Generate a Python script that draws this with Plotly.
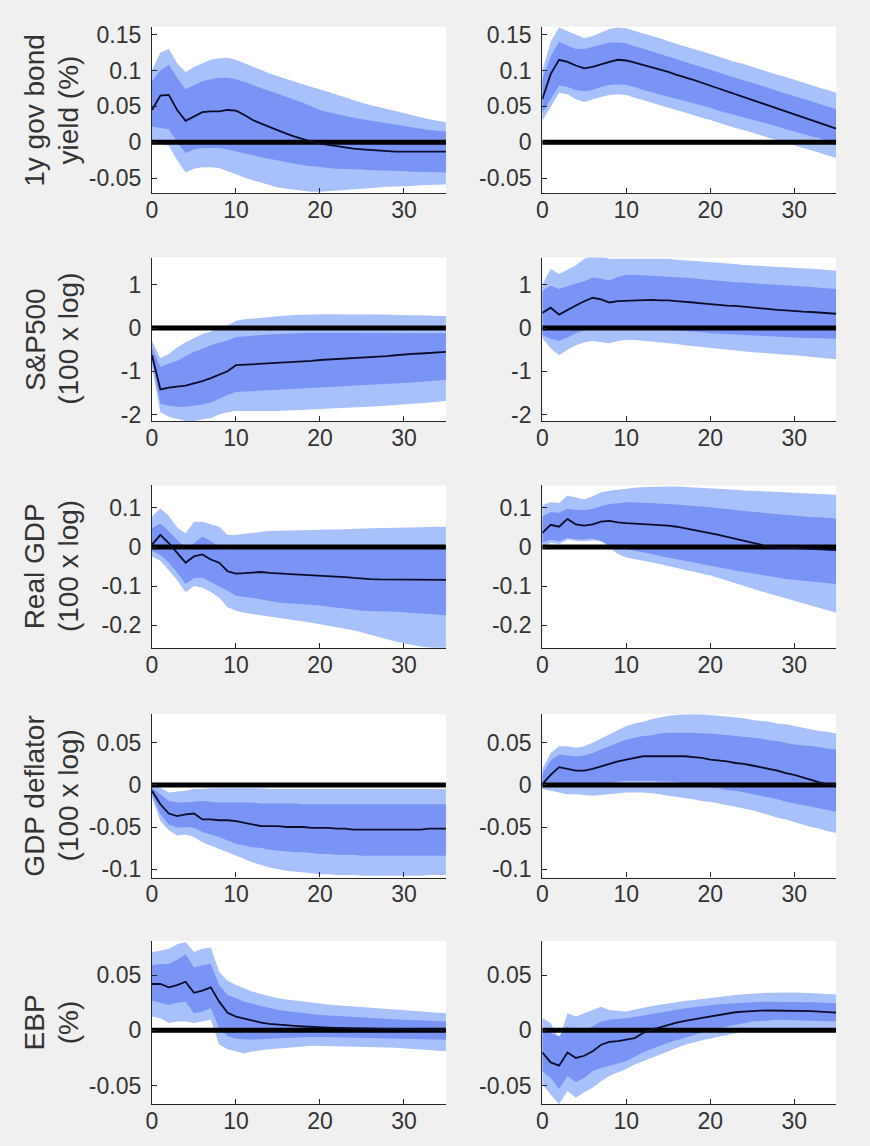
import plotly.graph_objects as go
from plotly.subplots import make_subplots

horizon = list(range(36))

# ---------------- Row 1: 1y gov bond yield ----------------
gb1_med = [0.045, 0.065, 0.066, 0.045, 0.030, 0.036, 0.042, 0.043, 0.043, 0.045, 0.044, 0.038, 0.031, 0.026, 0.021, 0.016, 0.012, 0.008, 0.004, 0.001, -0.002, -0.004, -0.006, -0.008, -0.009, -0.010, -0.011, -0.012, -0.012, -0.013, -0.013, -0.013, -0.013, -0.013, -0.013, -0.013]
gb1_d_up = [0.085, 0.100, 0.108, 0.090, 0.074, 0.080, 0.085, 0.088, 0.090, 0.090, 0.088, 0.084, 0.080, 0.076, 0.072, 0.068, 0.064, 0.060, 0.055, 0.050, 0.045, 0.042, 0.039, 0.037, 0.034, 0.032, 0.030, 0.028, 0.026, 0.024, 0.022, 0.020, 0.019, 0.017, 0.016, 0.015]
gb1_l_up = [0.100, 0.125, 0.130, 0.110, 0.098, 0.105, 0.110, 0.115, 0.117, 0.118, 0.115, 0.110, 0.105, 0.100, 0.096, 0.092, 0.088, 0.084, 0.080, 0.077, 0.074, 0.070, 0.066, 0.062, 0.058, 0.055, 0.052, 0.049, 0.046, 0.043, 0.040, 0.037, 0.034, 0.032, 0.030, 0.028]
gb1_d_lo = [0.022, 0.020, 0.018, 0.000, -0.015, -0.010, -0.008, -0.008, -0.008, -0.010, -0.012, -0.015, -0.018, -0.021, -0.024, -0.026, -0.028, -0.030, -0.032, -0.034, -0.035, -0.036, -0.037, -0.037, -0.038, -0.038, -0.039, -0.039, -0.040, -0.040, -0.040, -0.041, -0.041, -0.041, -0.042, -0.042]
gb1_l_lo = [0.000, -0.002, -0.005, -0.025, -0.042, -0.037, -0.035, -0.035, -0.036, -0.041, -0.045, -0.049, -0.053, -0.057, -0.060, -0.063, -0.065, -0.067, -0.068, -0.069, -0.069, -0.069, -0.068, -0.067, -0.066, -0.065, -0.064, -0.063, -0.062, -0.062, -0.061, -0.061, -0.060, -0.060, -0.059, -0.059]

gb2_med = [0.060, 0.095, 0.115, 0.112, 0.107, 0.103, 0.105, 0.109, 0.112, 0.115, 0.114, 0.111, 0.108, 0.104, 0.101, 0.098, 0.094, 0.091, 0.087, 0.083, 0.079, 0.075, 0.071, 0.067, 0.063, 0.059, 0.055, 0.051, 0.047, 0.043, 0.039, 0.035, 0.031, 0.027, 0.023, 0.019]
gb2_d_up = [0.088, 0.120, 0.140, 0.135, 0.130, 0.130, 0.133, 0.136, 0.139, 0.139, 0.138, 0.134, 0.131, 0.127, 0.123, 0.120, 0.116, 0.112, 0.109, 0.105, 0.101, 0.097, 0.094, 0.090, 0.086, 0.083, 0.079, 0.075, 0.072, 0.068, 0.064, 0.061, 0.057, 0.053, 0.050, 0.046]
gb2_l_up = [0.100, 0.140, 0.160, 0.155, 0.149, 0.145, 0.148, 0.153, 0.158, 0.160, 0.159, 0.155, 0.152, 0.148, 0.145, 0.141, 0.137, 0.134, 0.130, 0.127, 0.123, 0.119, 0.116, 0.112, 0.109, 0.105, 0.101, 0.098, 0.094, 0.091, 0.087, 0.083, 0.080, 0.076, 0.073, 0.069]
gb2_d_lo = [0.041, 0.060, 0.079, 0.077, 0.073, 0.071, 0.073, 0.077, 0.080, 0.081, 0.080, 0.077, 0.073, 0.070, 0.067, 0.064, 0.060, 0.057, 0.054, 0.051, 0.048, 0.044, 0.041, 0.038, 0.035, 0.031, 0.028, 0.025, 0.022, 0.018, 0.015, 0.012, 0.009, 0.005, 0.002, -0.001]
gb2_l_lo = [0.030, 0.050, 0.069, 0.067, 0.060, 0.056, 0.059, 0.063, 0.066, 0.067, 0.066, 0.062, 0.059, 0.055, 0.052, 0.048, 0.045, 0.041, 0.038, 0.034, 0.031, 0.027, 0.024, 0.020, 0.017, 0.013, 0.010, 0.006, 0.003, -0.001, -0.004, -0.008, -0.011, -0.015, -0.018, -0.022]

# ---------------- Row 2: S&P500 ----------------
sp1_med = [-0.63, -1.42, -1.38, -1.35, -1.33, -1.28, -1.23, -1.16, -1.08, -1.00, -0.86, -0.85, -0.84, -0.83, -0.82, -0.81, -0.80, -0.78, -0.77, -0.76, -0.74, -0.73, -0.72, -0.71, -0.70, -0.69, -0.68, -0.67, -0.65, -0.63, -0.61, -0.60, -0.59, -0.58, -0.56, -0.55]
sp1_d_up = [-0.45, -0.90, -0.82, -0.76, -0.65, -0.55, -0.48, -0.40, -0.34, -0.29, -0.21, -0.19, -0.17, -0.16, -0.15, -0.14, -0.13, -0.12, -0.12, -0.11, -0.11, -0.11, -0.11, -0.11, -0.11, -0.11, -0.11, -0.11, -0.11, -0.11, -0.11, -0.11, -0.12, -0.12, -0.12, -0.12]
sp1_l_up = [-0.30, -0.70, -0.60, -0.45, -0.33, -0.24, -0.14, -0.08, -0.02, 0.06, 0.17, 0.20, 0.22, 0.24, 0.26, 0.28, 0.29, 0.30, 0.31, 0.31, 0.32, 0.32, 0.32, 0.32, 0.32, 0.32, 0.31, 0.31, 0.31, 0.30, 0.30, 0.30, 0.29, 0.29, 0.28, 0.28]
sp1_d_lo = [-0.75, -1.76, -1.80, -1.82, -1.82, -1.80, -1.77, -1.72, -1.64, -1.55, -1.48, -1.47, -1.46, -1.45, -1.43, -1.42, -1.41, -1.40, -1.39, -1.38, -1.37, -1.36, -1.35, -1.34, -1.33, -1.32, -1.31, -1.30, -1.29, -1.28, -1.27, -1.26, -1.24, -1.23, -1.21, -1.20]
sp1_l_lo = [-0.90, -1.95, -2.05, -2.10, -2.15, -2.15, -2.12, -2.08, -2.00, -1.95, -1.92, -1.92, -1.92, -1.92, -1.92, -1.92, -1.91, -1.90, -1.89, -1.89, -1.88, -1.87, -1.86, -1.85, -1.84, -1.83, -1.82, -1.81, -1.80, -1.78, -1.77, -1.75, -1.74, -1.72, -1.71, -1.69]

sp2_med = [0.35, 0.47, 0.31, 0.42, 0.52, 0.62, 0.70, 0.66, 0.59, 0.62, 0.63, 0.64, 0.65, 0.65, 0.64, 0.64, 0.62, 0.61, 0.59, 0.57, 0.55, 0.54, 0.52, 0.51, 0.49, 0.48, 0.46, 0.44, 0.42, 0.41, 0.39, 0.38, 0.37, 0.36, 0.34, 0.33]
sp2_d_up = [0.86, 0.98, 0.90, 0.97, 1.03, 1.08, 1.17, 1.14, 1.10, 1.18, 1.23, 1.23, 1.22, 1.21, 1.20, 1.19, 1.18, 1.16, 1.15, 1.13, 1.11, 1.09, 1.08, 1.06, 1.05, 1.03, 1.02, 1.01, 1.00, 0.99, 0.98, 0.96, 0.95, 0.93, 0.92, 0.90]
sp2_l_up = [1.00, 1.37, 1.25, 1.35, 1.45, 1.60, 1.68, 1.65, 1.60, 1.60, 1.60, 1.61, 1.61, 1.61, 1.60, 1.60, 1.58, 1.57, 1.55, 1.54, 1.52, 1.51, 1.49, 1.48, 1.46, 1.45, 1.44, 1.43, 1.42, 1.41, 1.40, 1.39, 1.37, 1.36, 1.34, 1.33]
sp2_d_lo = [-0.16, -0.25, -0.30, -0.22, -0.12, -0.05, 0.00, 0.02, -0.01, 0.01, 0.02, 0.01, 0.00, -0.01, -0.03, -0.04, -0.06, -0.07, -0.09, -0.10, -0.12, -0.13, -0.14, -0.15, -0.17, -0.18, -0.19, -0.20, -0.21, -0.21, -0.22, -0.23, -0.23, -0.24, -0.24, -0.25]
sp2_l_lo = [-0.23, -0.47, -0.63, -0.50, -0.40, -0.33, -0.30, -0.32, -0.35, -0.30, -0.27, -0.28, -0.30, -0.32, -0.33, -0.35, -0.37, -0.40, -0.42, -0.45, -0.47, -0.49, -0.51, -0.53, -0.54, -0.56, -0.57, -0.59, -0.60, -0.62, -0.63, -0.65, -0.67, -0.68, -0.70, -0.72]

# ---------------- Row 3: Real GDP ----------------
gdp1_med = [0.006, 0.031, 0.010, -0.015, -0.040, -0.024, -0.019, -0.032, -0.040, -0.062, -0.068, -0.067, -0.066, -0.064, -0.066, -0.068, -0.069, -0.070, -0.071, -0.073, -0.074, -0.075, -0.076, -0.077, -0.079, -0.081, -0.082, -0.083, -0.083, -0.084, -0.084, -0.084, -0.084, -0.084, -0.084, -0.084]
gdp1_d_up = [0.048, 0.060, 0.040, 0.018, -0.003, 0.010, 0.027, 0.015, 0.002, -0.007, -0.005, -0.004, -0.003, -0.002, -0.001, 0.000, 0.000, 0.000, 0.000, 0.000, 0.000, 0.000, -0.001, -0.001, -0.001, -0.001, -0.001, -0.002, -0.002, -0.002, -0.002, -0.002, -0.002, -0.003, -0.003, -0.003]
gdp1_l_up = [0.078, 0.099, 0.080, 0.050, 0.035, 0.065, 0.065, 0.058, 0.052, 0.031, 0.031, 0.034, 0.037, 0.039, 0.041, 0.042, 0.042, 0.043, 0.043, 0.044, 0.044, 0.045, 0.045, 0.046, 0.047, 0.048, 0.048, 0.049, 0.049, 0.050, 0.050, 0.050, 0.051, 0.051, 0.052, 0.052]
gdp1_d_lo = [-0.011, -0.020, -0.040, -0.065, -0.095, -0.080, -0.078, -0.090, -0.100, -0.112, -0.125, -0.128, -0.130, -0.134, -0.138, -0.142, -0.144, -0.145, -0.147, -0.148, -0.150, -0.153, -0.155, -0.158, -0.160, -0.163, -0.164, -0.164, -0.165, -0.166, -0.167, -0.169, -0.170, -0.172, -0.173, -0.175]
gdp1_l_lo = [-0.024, -0.035, -0.060, -0.085, -0.116, -0.100, -0.104, -0.115, -0.130, -0.154, -0.163, -0.168, -0.172, -0.176, -0.179, -0.182, -0.185, -0.188, -0.191, -0.194, -0.197, -0.201, -0.205, -0.209, -0.213, -0.218, -0.224, -0.230, -0.236, -0.242, -0.247, -0.251, -0.255, -0.258, -0.260, -0.262]

gdp2_med = [0.036, 0.057, 0.052, 0.072, 0.058, 0.055, 0.058, 0.065, 0.067, 0.063, 0.061, 0.060, 0.059, 0.058, 0.057, 0.055, 0.052, 0.048, 0.044, 0.040, 0.036, 0.031, 0.026, 0.021, 0.017, 0.012, 0.006, 0.000, -0.002, -0.003, -0.003, -0.004, -0.005, -0.006, -0.007, -0.008]
gdp2_d_up = [0.078, 0.090, 0.088, 0.098, 0.095, 0.094, 0.098, 0.103, 0.110, 0.112, 0.115, 0.115, 0.114, 0.113, 0.112, 0.110, 0.109, 0.107, 0.106, 0.104, 0.102, 0.100, 0.097, 0.095, 0.092, 0.090, 0.088, 0.086, 0.084, 0.082, 0.080, 0.079, 0.077, 0.076, 0.074, 0.073]
gdp2_l_up = [0.107, 0.115, 0.113, 0.132, 0.127, 0.122, 0.130, 0.140, 0.144, 0.147, 0.150, 0.152, 0.153, 0.154, 0.155, 0.155, 0.155, 0.154, 0.153, 0.152, 0.150, 0.149, 0.148, 0.147, 0.145, 0.144, 0.143, 0.142, 0.140, 0.139, 0.138, 0.137, 0.136, 0.135, 0.135, 0.134]
gdp2_d_lo = [0.011, 0.019, 0.015, 0.023, 0.020, 0.020, 0.022, 0.015, 0.005, -0.001, -0.006, -0.010, -0.014, -0.018, -0.023, -0.027, -0.031, -0.035, -0.040, -0.044, -0.048, -0.052, -0.056, -0.060, -0.064, -0.068, -0.071, -0.075, -0.078, -0.082, -0.085, -0.087, -0.089, -0.091, -0.093, -0.095]
gdp2_l_lo = [0.000, 0.011, 0.008, 0.019, 0.016, 0.015, 0.017, 0.017, -0.002, -0.018, -0.027, -0.031, -0.035, -0.039, -0.044, -0.048, -0.053, -0.058, -0.063, -0.068, -0.073, -0.079, -0.086, -0.093, -0.099, -0.106, -0.113, -0.119, -0.126, -0.132, -0.139, -0.145, -0.151, -0.157, -0.162, -0.168]

# ---------------- Row 4: GDP deflator ----------------
def1_med = [-0.007, -0.023, -0.034, -0.037, -0.035, -0.034, -0.041, -0.041, -0.042, -0.042, -0.043, -0.045, -0.047, -0.049, -0.049, -0.049, -0.050, -0.050, -0.050, -0.051, -0.051, -0.051, -0.052, -0.052, -0.053, -0.053, -0.053, -0.053, -0.053, -0.053, -0.053, -0.053, -0.053, -0.052, -0.052, -0.052]
def1_d_up = [-0.003, -0.011, -0.019, -0.021, -0.021, -0.020, -0.019, -0.020, -0.021, -0.021, -0.021, -0.021, -0.021, -0.022, -0.022, -0.022, -0.022, -0.022, -0.023, -0.023, -0.023, -0.023, -0.023, -0.023, -0.023, -0.023, -0.023, -0.023, -0.023, -0.023, -0.023, -0.023, -0.023, -0.023, -0.023, -0.023]
def1_l_up = [-0.001, -0.003, -0.009, -0.008, -0.007, -0.005, -0.005, -0.004, -0.004, -0.004, -0.004, -0.004, -0.004, -0.004, -0.005, -0.005, -0.005, -0.005, -0.005, -0.005, -0.005, -0.005, -0.005, -0.005, -0.005, -0.005, -0.005, -0.005, -0.005, -0.005, -0.005, -0.005, -0.005, -0.005, -0.005, -0.005]
def1_d_lo = [-0.011, -0.035, -0.047, -0.051, -0.050, -0.051, -0.056, -0.059, -0.062, -0.066, -0.070, -0.072, -0.074, -0.075, -0.077, -0.078, -0.079, -0.080, -0.080, -0.081, -0.082, -0.082, -0.083, -0.083, -0.083, -0.084, -0.084, -0.084, -0.084, -0.084, -0.084, -0.084, -0.084, -0.084, -0.084, -0.084]
def1_l_lo = [-0.015, -0.043, -0.054, -0.060, -0.059, -0.062, -0.068, -0.072, -0.076, -0.080, -0.084, -0.088, -0.092, -0.095, -0.098, -0.100, -0.102, -0.103, -0.104, -0.105, -0.106, -0.106, -0.107, -0.107, -0.107, -0.108, -0.108, -0.108, -0.108, -0.108, -0.108, -0.108, -0.108, -0.107, -0.107, -0.107]

def2_med = [0.001, 0.012, 0.021, 0.019, 0.017, 0.017, 0.019, 0.022, 0.025, 0.028, 0.030, 0.032, 0.034, 0.034, 0.034, 0.034, 0.034, 0.034, 0.033, 0.032, 0.030, 0.029, 0.028, 0.026, 0.025, 0.023, 0.021, 0.019, 0.017, 0.014, 0.012, 0.009, 0.006, 0.003, 0.001, 0.000]
def2_d_up = [0.013, 0.029, 0.036, 0.035, 0.034, 0.035, 0.038, 0.042, 0.046, 0.050, 0.054, 0.056, 0.058, 0.059, 0.061, 0.062, 0.062, 0.062, 0.062, 0.061, 0.061, 0.060, 0.059, 0.058, 0.057, 0.056, 0.055, 0.053, 0.052, 0.050, 0.048, 0.047, 0.046, 0.045, 0.043, 0.042]
def2_l_up = [0.019, 0.038, 0.046, 0.046, 0.044, 0.046, 0.050, 0.055, 0.060, 0.065, 0.070, 0.073, 0.075, 0.078, 0.080, 0.082, 0.083, 0.084, 0.084, 0.084, 0.083, 0.082, 0.081, 0.080, 0.079, 0.077, 0.076, 0.075, 0.073, 0.072, 0.070, 0.068, 0.066, 0.064, 0.063, 0.061]
def2_d_lo = [-0.003, -0.001, 0.001, 0.000, 0.000, -0.001, 0.000, 0.001, 0.002, 0.004, 0.005, 0.005, 0.005, 0.005, 0.004, 0.004, 0.003, 0.001, 0.000, -0.002, -0.003, -0.004, -0.006, -0.007, -0.009, -0.011, -0.013, -0.015, -0.017, -0.020, -0.022, -0.024, -0.026, -0.028, -0.030, -0.032]
def2_l_lo = [-0.005, -0.007, -0.009, -0.011, -0.011, -0.012, -0.013, -0.012, -0.011, -0.010, -0.009, -0.009, -0.009, -0.010, -0.011, -0.013, -0.014, -0.016, -0.017, -0.019, -0.020, -0.022, -0.024, -0.026, -0.028, -0.030, -0.033, -0.036, -0.039, -0.041, -0.044, -0.047, -0.050, -0.052, -0.055, -0.057]

# ---------------- Row 5: EBP ----------------
ebp1_med = [0.042, 0.042, 0.039, 0.041, 0.044, 0.034, 0.036, 0.039, 0.026, 0.016, 0.0125, 0.0105, 0.0087, 0.007, 0.0058, 0.005, 0.0045, 0.004, 0.0035, 0.003, 0.0027, 0.0025, 0.0022, 0.002, 0.0017, 0.0015, 0.0014, 0.0013, 0.0012, 0.0011, 0.001, 0.0009, 0.0008, 0.0007, 0.0006, 0.0006]
ebp1_d_up = [0.059, 0.060, 0.060, 0.064, 0.069, 0.057, 0.059, 0.060, 0.041, 0.032, 0.029, 0.026, 0.024, 0.022, 0.020, 0.0185, 0.0175, 0.0165, 0.0155, 0.0148, 0.014, 0.0135, 0.013, 0.0125, 0.012, 0.0116, 0.0112, 0.0108, 0.0104, 0.010, 0.0096, 0.0093, 0.009, 0.0087, 0.0083, 0.008]
ebp1_l_up = [0.071, 0.072, 0.074, 0.078, 0.080, 0.071, 0.074, 0.075, 0.053, 0.045, 0.041, 0.038, 0.035, 0.033, 0.031, 0.029, 0.028, 0.027, 0.026, 0.025, 0.024, 0.0234, 0.0228, 0.0222, 0.0216, 0.021, 0.0205, 0.020, 0.0195, 0.019, 0.0185, 0.018, 0.0173, 0.0166, 0.016, 0.0155]
ebp1_d_lo = [0.027, 0.025, 0.023, 0.025, 0.026, 0.0155, 0.017, 0.020, 0.002, -0.0054, -0.0075, -0.008, -0.0084, -0.008, -0.0075, -0.007, -0.0067, -0.0064, -0.0062, -0.006, -0.006, -0.006, -0.0062, -0.0064, -0.0067, -0.007, -0.0071, -0.0072, -0.0073, -0.0074, -0.0075, -0.0077, -0.0079, -0.0081, -0.0083, -0.0084]
ebp1_l_lo = [0.0125, 0.011, 0.0066, 0.008, 0.008, 0.0066, 0.008, 0.0096, -0.0128, -0.017, -0.019, -0.021, -0.019, -0.018, -0.017, -0.016, -0.0155, -0.015, -0.0145, -0.014, -0.014, -0.014, -0.014, -0.0145, -0.0148, -0.015, -0.0152, -0.0154, -0.0156, -0.0158, -0.016, -0.0166, -0.0172, -0.0178, -0.0184, -0.019]

ebp2_med = [-0.020, -0.029, -0.032, -0.020, -0.025, -0.023, -0.019, -0.013, -0.0105, -0.0098, -0.0084, -0.007, -0.0024, 0.0006, 0.0027, 0.005, 0.007, 0.0087, 0.010, 0.0115, 0.013, 0.0142, 0.0153, 0.0164, 0.017, 0.0176, 0.0178, 0.018, 0.018, 0.018, 0.018, 0.0178, 0.0175, 0.017, 0.0165, 0.016]
ebp2_d_up = [-0.001, -0.0024, -0.0054, 0.0036, -0.001, 0.0006, 0.0036, 0.008, 0.0096, 0.010, 0.011, 0.012, 0.0134, 0.0148, 0.0162, 0.0176, 0.019, 0.020, 0.021, 0.022, 0.023, 0.0236, 0.0242, 0.0248, 0.0254, 0.026, 0.026, 0.026, 0.026, 0.026, 0.026, 0.0258, 0.0255, 0.0252, 0.0248, 0.0245]
ebp2_l_up = [0.011, 0.0066, -0.0084, 0.0155, 0.0125, 0.0155, 0.0185, 0.0215, 0.0185, 0.0178, 0.017, 0.0188, 0.0206, 0.0219, 0.0232, 0.0245, 0.0255, 0.0265, 0.0276, 0.0286, 0.0296, 0.0304, 0.0312, 0.032, 0.0327, 0.0334, 0.0337, 0.034, 0.0343, 0.0343, 0.0343, 0.034, 0.0337, 0.0333, 0.0329, 0.0325]
ebp2_d_lo = [-0.037, -0.043, -0.053, -0.041, -0.047, -0.043, -0.037, -0.034, -0.032, -0.030, -0.028, -0.024, -0.020, -0.017, -0.014, -0.011, -0.009, -0.007, -0.0045, -0.002, 0.0006, 0.002, 0.0035, 0.005, 0.0065, 0.008, 0.0085, 0.009, 0.0096, 0.0096, 0.0096, 0.0093, 0.009, 0.0087, 0.0083, 0.008]
ebp2_l_lo = [-0.049, -0.058, -0.067, -0.055, -0.061, -0.056, -0.052, -0.046, -0.041, -0.038, -0.035, -0.031, -0.028, -0.025, -0.022, -0.019, -0.016, -0.013, -0.011, -0.009, -0.007, -0.0055, -0.004, -0.0025, -0.001, 0.0006, 0.001, 0.0013, 0.0015, 0.0015, 0.0015, 0.0013, 0.0011, 0.0009, 0.0007, 0.0006]

row_titles = [("1y gov bond", "yield (%)"), ("S&P500", "(100 x log)"), ("Real GDP", "(100 x log)"),
              ("GDP deflator", "(100 x log)"), ("EBP", "(%)")]
y_ranges = [[-0.071, 0.161], [-2.15, 1.63], [-0.258, 0.158], [-0.11, 0.084], [-0.067, 0.081]]
y_ticks = [[-0.05, 0, 0.05, 0.1, 0.15], [-2, -1, 0, 1], [-0.2, -0.1, 0, 0.1], [-0.1, -0.05, 0, 0.05], [-0.05, 0, 0.05]]
y_ticktext = [["-0.05", "0", "0.05", "0.1", "0.15"], ["-2", "-1", "0", "1"], ["-0.2", "-0.1", "0", "0.1"],
              ["-0.1", "-0.05", "0", "0.05"], ["-0.05", "0", "0.05"]]
x_ticks = [0, 10, 20, 30]

panels = [
    [(gb1_med, gb1_d_up, gb1_d_lo, gb1_l_up, gb1_l_lo), (gb2_med, gb2_d_up, gb2_d_lo, gb2_l_up, gb2_l_lo)],
    [(sp1_med, sp1_d_up, sp1_d_lo, sp1_l_up, sp1_l_lo), (sp2_med, sp2_d_up, sp2_d_lo, sp2_l_up, sp2_l_lo)],
    [(gdp1_med, gdp1_d_up, gdp1_d_lo, gdp1_l_up, gdp1_l_lo), (gdp2_med, gdp2_d_up, gdp2_d_lo, gdp2_l_up, gdp2_l_lo)],
    [(def1_med, def1_d_up, def1_d_lo, def1_l_up, def1_l_lo), (def2_med, def2_d_up, def2_d_lo, def2_l_up, def2_l_lo)],
    [(ebp1_med, ebp1_d_up, ebp1_d_lo, ebp1_l_up, ebp1_l_lo), (ebp2_med, ebp2_d_up, ebp2_d_lo, ebp2_l_up, ebp2_l_lo)],
]

W, H = 870, 1146
LIGHT = "#a9c1fb"
DARK = "#7a94f6"
AXC = "#262626"
TXT = "#333333"
FONT = "Liberation Sans, Arial, sans-serif"
TICK_SIZE = 23
TITLE_SIZE = 28

col_px = [(147, 443), (540, 836)]
row_px = [(22, 190), (255, 420), (485, 649), (716, 881), (945, 1110)]

fig = make_subplots(rows=5, cols=2)

for r in range(5):
    for c in range(2):
        med, d_up, d_lo, l_up, l_lo = panels[r][c]
        xr = horizon + horizon[::-1]
        fig.add_trace(go.Scatter(x=xr, y=l_up + l_lo[::-1], fill="toself", fillcolor=LIGHT,
                                 line=dict(width=0), mode="lines", hoverinfo="skip", showlegend=False),
                      row=r + 1, col=c + 1)
        fig.add_trace(go.Scatter(x=xr, y=d_up + d_lo[::-1], fill="toself", fillcolor=DARK,
                                 line=dict(width=0), mode="lines", hoverinfo="skip", showlegend=False),
                      row=r + 1, col=c + 1)
        fig.add_trace(go.Scatter(x=[horizon[0], horizon[-1]], y=[0, 0], mode="lines",
                                 line=dict(color="black", width=5), showlegend=False),
                      row=r + 1, col=c + 1)
        fig.add_trace(go.Scatter(x=horizon, y=med, mode="lines",
                                 line=dict(color="#0c0c2a", width=1.8), showlegend=False),
                      row=r + 1, col=c + 1)
        idx = r * 2 + c + 1
        sfx = "" if idx == 1 else str(idx)
        x0, x1 = col_px[c]
        yt, yb = row_px[r]
        fig.layout["xaxis" + sfx].update(
            domain=[x0 / W, x1 / W], range=[0, 35], tickvals=x_ticks, ticktext=[str(v) for v in x_ticks],
            showgrid=False, zeroline=False, showline=True, linecolor=AXC, linewidth=1.3,
            ticks="inside", ticklen=5, tickcolor=AXC, ticklabelstandoff=-4,
            tickfont=dict(size=TICK_SIZE, color=TXT, family=FONT))
        fig.layout["yaxis" + sfx].update(
            domain=[1 - yb / H, 1 - yt / H], range=y_ranges[r], tickvals=y_ticks[r], ticktext=y_ticktext[r],
            showgrid=False, zeroline=False, showline=True, linecolor=AXC, linewidth=1.3,
            ticks="inside", ticklen=5, tickcolor=AXC, ticklabelstandoff=5,
            tickfont=dict(size=TICK_SIZE, color=TXT, family=FONT))

annotations = []
for r, (l1, l2) in enumerate(row_titles):
    yt, yb = row_px[r]
    yc = 1 - (yt + yb) / 2 / H
    for xp, txt in ((29, l1), (63, l2)):
        annotations.append(dict(x=xp / W, y=yc, xref="paper", yref="paper", text=txt, showarrow=False,
                                textangle=-90, xanchor="center", yanchor="middle",
                                font=dict(size=TITLE_SIZE, color=TXT, family=FONT)))

fig.update_layout(width=W, height=H, margin=dict(l=0, r=0, t=0, b=0),
                  paper_bgcolor="#f0f0f0", plot_bgcolor="white", annotations=annotations,
                  showlegend=False)

fig.write_html("out.html", config={"displayModeBar": False},
               post_script="document.body.style.margin='0';document.body.style.background='#f0f0f0';")
